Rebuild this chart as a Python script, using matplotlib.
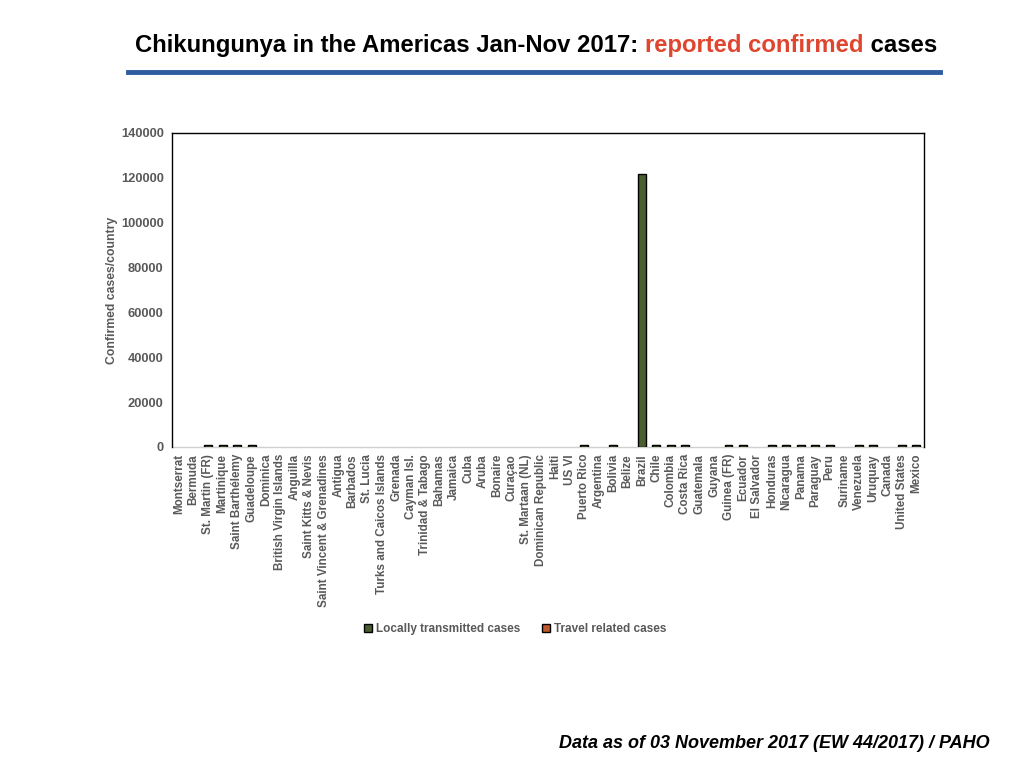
import matplotlib
matplotlib.use("Agg")
import matplotlib.pyplot as plt
from matplotlib.patches import Patch
import numpy as np

plt.rcParams['font.family'] = ['Liberation Sans', 'DejaVu Sans']

countries = ["Montserrat", "Bermuda", "St. Martin (FR)", "Martinique", "Saint Barthélemy",
             "Guadeloupe", "Dominica", "British Virgin Islands", "Anguilla", "Saint Kitts & Nevis",
             "Saint Vincent & Grenadines", "Antigua", "Barbados", "St. Lucia",
             "Turks and Caicos Islands", "Grenada", "Cayman Isl.", "Trinidad & Tabago",
             "Bahamas", "Jamaica", "Cuba", "Aruba", "Bonaire", "Curaçao", "St. Martaan (NL)",
             "Dominican Republic", "Haiti", "US VI", "Puerto Rico", "Argentina", "Bolivia",
             "Belize", "Brazil", "Chile", "Colombia", "Costa Rica", "Guatemala", "Guyana",
             "Guinea (FR)", "Ecuador", "El Salvador", "Honduras", "Nicaragua", "Panama",
             "Paraguay", "Peru", "Suriname", "Venezuela", "Uruquay", "Canada",
             "United States", "Mexico"]

# (very small bars show only as a line)
local_cases = [0, 0, 700, 800, 700, 800, 0, 0, 0, 0,
               0, 0, 0, 0, 0, 0, 0, 0, 0, 0,
               0, 0, 0, 0, 0, 0, 0, 0, 700, 0,
               800, 0, 121700, 700, 800, 800, 0, 0, 700, 800,
               0, 700, 800, 700, 900, 800, 0, 700, 700, 0,
               700, 800]
travel_cases = [0, 0, 0, 0, 0, 0, 0, 0, 0, 0,
                0, 0, 0, 0, 0, 0, 0, 0, 0, 0,
                0, 0, 0, 0, 0, 0, 0, 0, 0, 0,
                0, 0, 0, 5, 0, 0, 0, 0, 0, 0,
                0, 0, 0, 0, 0, 0, 0, 0, 10, 0,
                20, 0]

local_color = "#4a5e2f"
travel_color = "#c0592b"
gray = "#595959"

fig = plt.figure(figsize=(10.24, 7.68), dpi=100)
ax = fig.add_axes([0.168, 0.418, 0.734, 0.409])

x = np.arange(len(countries))
local = np.array(local_cases)
travel = np.array(travel_cases)
# only countries with cases get a bar
has = local > 0
ax.bar(x[has], local[has], width=0.55, color=local_color, edgecolor="black",
       linewidth=1.0, zorder=3)
ht = travel > 0
ax.bar(x[ht], travel[ht], width=0.55, bottom=local[ht], color=travel_color,
       edgecolor="black", linewidth=0.8, zorder=3)

ax.set_xlim(-0.5, len(countries) - 0.5)
ax.set_ylim(0, 140000)
ax.set_yticks(np.arange(0, 140001, 20000))
ax.set_yticklabels([str(v) for v in range(0, 140001, 20000)],
                   fontsize=9.3, fontweight="bold", color=gray)
ax.set_xticks(x)
ax.set_xticklabels(countries, rotation=90, fontsize=8.4, fontweight="bold", color=gray)
ax.tick_params(axis="both", length=0, pad=9)
ax.tick_params(axis="y", pad=6)
ax.tick_params(axis="x", pad=5)

for s in ["left", "top", "right"]:
    ax.spines[s].set_color("black")
    ax.spines[s].set_linewidth(1.0)
ax.spines["bottom"].set_color("#d0d0d0")
ax.spines["bottom"].set_linewidth(1.0)
ax.spines["bottom"].set_zorder(1)

ax.set_ylabel("Confirmed cases/country", fontsize=8.8, fontweight="bold", color=gray, labelpad=2)

handles = [Patch(facecolor=local_color, edgecolor="black", label="Locally transmitted cases"),
           Patch(facecolor=travel_color, edgecolor="black", label="Travel related cases")]
fig.legend(handles=handles, loc="center", bbox_to_anchor=(0.503, 0.181), ncol=2, frameon=False,
           handlelength=0.7, handleheight=0.7, handletextpad=0.3, columnspacing=1.9,
           prop={"size": 8.5, "weight": "bold"}, labelcolor=gray)

# title in three colour pieces
fig.canvas.draw()
r = fig.canvas.get_renderer()
parts = [("Chikungunya in the Americas Jan-Nov 2017: ", "black"),
         ("reported confirmed", "#e0452f"),
         (" cases", "black")]
texts = []
for s, c in parts:
    t = fig.text(0, 0.941, s, fontsize=17.2, fontweight="bold", color=c, va="center")
    texts.append(t)
widths = [t.get_window_extent(r).width for t in texts]
total = sum(widths)
xpos = 536 - total / 2
for t, w in zip(texts, widths):
    t.set_x(xpos / 1024)
    xpos += w

fig.add_artist(plt.Line2D([128 / 1024, 940 / 1024], [1 - 72 / 768, 1 - 72 / 768],
                          color="#2e5c9e", linewidth=3.5))

fig.text(990 / 1024, 1 - 744 / 768, "Data as of 03 November 2017 (EW 44/2017) / PAHO",
         fontsize=13, fontweight="bold", style="italic", ha="right", va="center")

fig.savefig("out.png", dpi=100)
